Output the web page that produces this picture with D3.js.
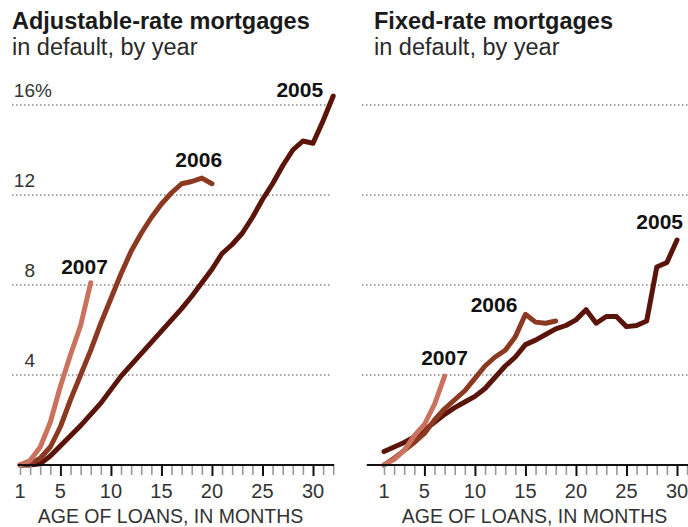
<!DOCTYPE html>
<html>
<head>
<meta charset="utf-8">
<script src="https://cdn.jsdelivr.net/npm/d3@7"></script>
<style>
  body { margin: 0; background: #fff; }
  svg { font-family: "Liberation Sans", Arial, Helvetica, sans-serif; }
</style>
</head>
<body>
<svg width="688" height="527"></svg>
<script>
// Share of loans in default (%) by age of loan in months
const armMonths2005 = d3.range(1, 33);
const arm2005 = [0, 0, 0.05, 0.4, 0.85, 1.3, 1.75, 2.25, 2.75, 3.35, 3.95, 4.45, 4.95, 5.45, 5.95, 6.45,
  6.95, 7.5, 8.1, 8.7, 9.4, 9.8, 10.3, 11.0, 11.8, 12.5, 13.3, 14.0, 14.4, 14.3, 15.3, 16.4];
const armMonths2006 = d3.range(1, 21);
const arm2006 = [0, 0.05, 0.3, 0.8, 1.7, 2.9, 4.0, 5.1, 6.3, 7.4, 8.5, 9.5, 10.3, 11.0, 11.6, 12.1,
  12.5, 12.6, 12.75, 12.5];
const armMonths2007 = d3.range(1, 9);
const arm2007 = [0, 0.2, 0.8, 1.9, 3.5, 4.9, 6.2, 8.1];

const frmMonths2005 = d3.range(1, 31);
const frm2005 = [0.6, 0.8, 1.0, 1.25, 1.55, 1.9, 2.25, 2.55, 2.8, 3.05, 3.4, 3.9, 4.4, 4.8, 5.35, 5.55,
  5.8, 6.05, 6.2, 6.45, 6.9, 6.3, 6.6, 6.6, 6.15, 6.2, 6.4, 8.8, 9.0, 10.0];
const frmMonths2006 = d3.range(1, 19);
const frm2006 = [0, 0.3, 0.65, 1.0, 1.4, 2.0, 2.5, 2.9, 3.3, 3.85, 4.4, 4.8, 5.1, 5.7, 6.7, 6.35, 6.3, 6.4];
const frmMonths2007 = d3.range(1, 8);
const frm2007 = [0, 0.25, 0.65, 1.3, 1.8, 2.7, 3.95];

const yTicks = [4, 8, 12, 16];
const xLabelTicks = [1, 5, 10, 15, 20, 25, 30];
const colors = { '2005': '#5b140a', '2006': '#8c3921', '2007': '#cb725f' };

const svg = d3.select('svg');

const y = d3.scaleLinear().domain([0, 16]).range([465, 105]);

const panels = [
  {
    title: 'Adjustable-rate mortgages', left: 12,
    x: d3.scaleLinear().domain([1, 30]).range([20, 313]),
    lastTick: 32, gridX: [12, 330], axisX: [0.8, 32.1],
    series: [
      { year: '2005', months: armMonths2005, values: arm2005, label: [31, 16.35] },
      { year: '2006', months: armMonths2006, values: arm2006, label: [21, 13.25] },
      { year: '2007', months: armMonths2007, values: arm2007, label: [9.7, 8.5] }
    ],
    yLabels: true
  },
  {
    title: 'Fixed-rate mortgages', left: 374,
    x: d3.scaleLinear().domain([1, 30]).range([384, 677]),
    lastTick: 31, gridX: [362, 688], axisX: [-0.7, 31.2],
    series: [
      { year: '2005', months: frmMonths2005, values: frm2005, label: [30.6, 10.5] },
      { year: '2006', months: frmMonths2006, values: frm2006, label: [14.2, 6.78] },
      { year: '2007', months: frmMonths2007, values: frm2007, label: [9.3, 4.45] }
    ],
    yLabels: false
  }
];

panels.forEach(p => {
  const g = svg.append('g');

  // titles
  g.append('text')
    .attr('x', p.left).attr('y', 29)
    .attr('font-size', 23.5).attr('font-weight', 'bold').attr('fill', '#1a1a1a')
    .text(p.title);
  g.append('text')
    .attr('x', p.left).attr('y', 55)
    .attr('font-size', 23.5).attr('fill', '#2a2a2a')
    .text('in default, by year');

  // dotted gridlines
  g.selectAll('.grid').data(yTicks).join('line')
    .attr('x1', p.gridX[0]).attr('x2', p.gridX[1])
    .attr('y1', d => y(d)).attr('y2', d => y(d))
    .attr('stroke', '#888').attr('stroke-width', 1.3)
    .attr('stroke-dasharray', '1.5,2.5');

  if (p.yLabels) {
    g.selectAll('.ylab').data(yTicks).join('text')
      .attr('x', 35).attr('y', d => y(d) - 8)
      .attr('text-anchor', 'end')
      .attr('font-size', 19).attr('fill', '#333')
      .text(d => d);
    g.append('text')
      .attr('x', 35).attr('y', y(16) - 8)
      .attr('font-size', 19).attr('fill', '#333')
      .text('%');
  }

  // lines
  const line = d3.line()
    .x(d => p.x(d[0]))
    .y(d => y(d[1]));

  p.series.forEach(s => {
    g.append('path')
      .datum(d3.zip(s.months, s.values))
      .attr('d', line)
      .attr('fill', 'none')
      .attr('stroke', colors[s.year])
      .attr('stroke-width', 5)
      .attr('stroke-linejoin', 'round')
      .attr('stroke-linecap', 'round');
  });

  p.series.forEach(s => {
    g.append('text')
      .attr('x', p.x(s.label[0])).attr('y', y(s.label[1]))
      .attr('text-anchor', 'end')
      .attr('font-size', 21).attr('font-weight', 'bold').attr('fill', '#111')
      .text(s.year);
  });

  // x axis: minor ticks every month, darker ticks every 5
  const minor = d3.axisBottom(p.x)
    .tickValues(d3.range(1, p.lastTick + 1).filter(d => d % 5 !== 0))
    .tickSize(9).tickFormat('');
  g.append('g').attr('transform', 'translate(0,466)').call(minor)
    .call(a => a.select('.domain').remove())
    .call(a => a.selectAll('line').attr('stroke', '#999').attr('stroke-width', 1.6));

  const major = d3.axisBottom(p.x)
    .tickValues(xLabelTicks.filter(d => d % 5 === 0))
    .tickSize(10).tickFormat('');
  g.append('g').attr('transform', 'translate(0,466)').call(major)
    .call(a => a.select('.domain').remove())
    .call(a => a.selectAll('line').attr('stroke', '#111').attr('stroke-width', 2));

  g.append('line')
    .attr('x1', p.x(p.axisX[0])).attr('x2', p.x(p.axisX[1]))
    .attr('y1', 465).attr('y2', 465)
    .attr('stroke', '#111').attr('stroke-width', 2);

  g.selectAll('.xlab').data(xLabelTicks).join('text')
    .attr('x', d => p.x(d)).attr('y', 498)
    .attr('text-anchor', 'middle')
    .attr('font-size', 20).attr('fill', '#333')
    .text(d => d);

  g.append('text')
    .attr('x', (p.x(1) + p.x(30)) / 2 + 4).attr('y', 523)
    .attr('text-anchor', 'middle')
    .attr('font-size', 19.5).attr('fill', '#333')
    .text('AGE OF LOANS, IN MONTHS');
});
</script>
</body>
</html>
